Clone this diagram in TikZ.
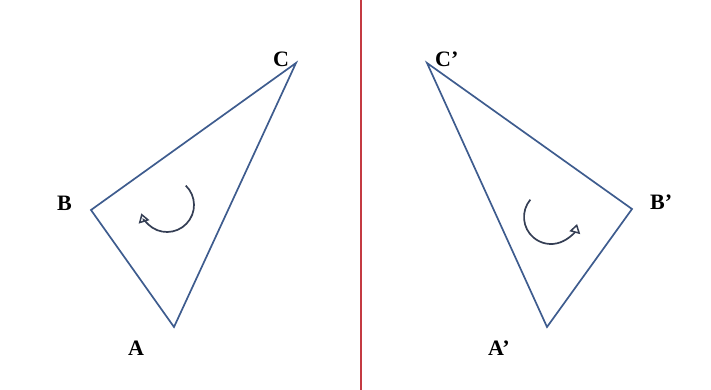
\documentclass[tikz,border=0pt]{standalone}
\usepackage{fontspec}
\setmainfont{Liberation Serif}
\definecolor{edgeblue}{RGB}{62,92,142}
\definecolor{mirrorred}{RGB}{196,58,66}
\definecolor{turn}{RGB}{52,62,84}
\usetikzlibrary{arrows.meta}

\begin{document}
\begin{tikzpicture}[
  x=1pt, y=-1pt,
  tri/.style={draw=edgeblue, line width=1.7pt, line join=miter},
  mirror/.style={draw=mirrorred, line width=1.7pt},
  rot/.style={draw=turn, line width=1.7pt, -{Triangle[open, length=9pt, width=11pt, line width=1.5pt]}},
  lbl/.style={font=\fontsize{22}{26}\selectfont\bfseries, anchor=base west, inner sep=0pt}
]
\useasboundingbox (0,0) rectangle (711,390);

% Mirror line
\coordinate (mtop) at (361,0);
\coordinate (mbot) at (361,390);
\draw[mirror] (mtop) -- (mbot);

% Original triangle
\coordinate (A) at (174,327);
\coordinate (B) at (91,210);
\coordinate (C) at (296,63);
\draw[tri] (A) -- (B) -- (C) -- cycle;
\node[lbl] (labA) at (128,355) {A};
\node[lbl] (labB) at (57,210) {B};
\node[lbl] (labC) at (273,67) {C};

% Reflected triangle
\coordinate (A') at (547,327);
\coordinate (B') at (632,209);
\coordinate (C') at (427,63);
\draw[tri] (A') -- (B') -- (C') -- cycle;
\node[lbl] (labA') at (488,355) {A’};
\node[lbl] (labB') at (650,209) {B’};
\node[lbl] (labC') at (435,67) {C’};

% Orientation
\coordinate (ocl) at (167,205);
\coordinate (ocr) at (551,217);
\draw[rot] ([shift={(-46:27)}]ocl) arc[start angle=-46, end angle=162, radius=27];
\draw[rot] ([shift={(220:27)}]ocr) arc[start angle=220, end angle=15, radius=27];

\end{tikzpicture}
\end{document}
